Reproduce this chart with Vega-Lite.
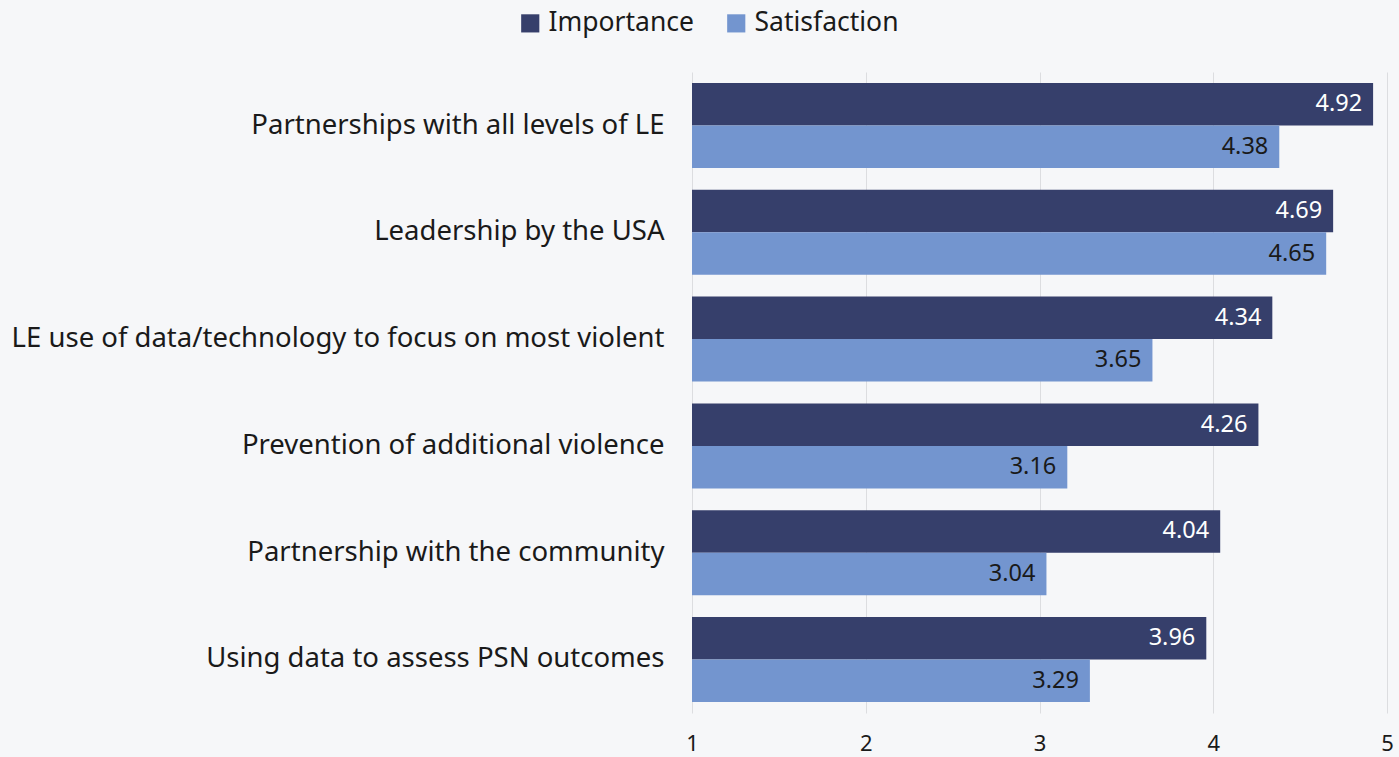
{
  "$schema": "https://vega.github.io/schema/vega-lite/v6.json",
  "width": 695,
  "height": 641,
  "autosize": {"type": "none"},
  "padding": {"left": 692, "top": 72, "right": 12, "bottom": 44},
  "background": "#f6f7f9",
  "config": {
    "font": "Noto Sans",
    "view": {"stroke": null}
  },
  "data": {
    "values": [
      {"item": "Partnerships with all levels of LE", "series": "Importance", "value": 4.92},
      {"item": "Partnerships with all levels of LE", "series": "Satisfaction", "value": 4.38},
      {"item": "Leadership by the USA", "series": "Importance", "value": 4.69},
      {"item": "Leadership by the USA", "series": "Satisfaction", "value": 4.65},
      {"item": "LE use of data/technology to focus on most violent", "series": "Importance", "value": 4.34},
      {"item": "LE use of data/technology to focus on most violent", "series": "Satisfaction", "value": 3.65},
      {"item": "Prevention of additional violence", "series": "Importance", "value": 4.26},
      {"item": "Prevention of additional violence", "series": "Satisfaction", "value": 3.16},
      {"item": "Partnership with the community", "series": "Importance", "value": 4.04},
      {"item": "Partnership with the community", "series": "Satisfaction", "value": 3.04},
      {"item": "Using data to assess PSN outcomes", "series": "Importance", "value": 3.96},
      {"item": "Using data to assess PSN outcomes", "series": "Satisfaction", "value": 3.29}
    ]
  },
  "encoding": {
    "y": {
      "field": "item",
      "type": "nominal",
      "sort": null,
      "scale": {"paddingInner": 0.204, "paddingOuter": 0.103},
      "axis": {
        "title": null,
        "domain": false,
        "ticks": false,
        "labelFontSize": 27.5,
        "labelColor": "#1a1a1a",
        "labelPadding": 28,
        "labelLimit": 800
      }
    },
    "yOffset": {"field": "series", "type": "nominal", "sort": ["Importance", "Satisfaction"]}
  },
  "layer": [
    {
      "mark": {"type": "bar"},
      "encoding": {
        "x": {
          "field": "value",
          "type": "quantitative",
          "scale": {"domain": [1, 5], "nice": false, "zero": false},
          "axis": {
            "title": null,
            "values": [1, 2, 3, 4, 5],
            "format": "d",
            "domain": false,
            "ticks": false,
            "grid": true,
            "gridColor": "#dcdde0",
            "gridWidth": 1,
            "labelFontSize": 22,
            "labelColor": "#1a1a1a",
            "labelPadding": 20,
            "labelFlush": false
          }
        },
        "x2": {"datum": 1},
        "color": {
          "field": "series",
          "type": "nominal",
          "scale": {"domain": ["Importance", "Satisfaction"], "range": ["#363f6b", "#7395cf"]},
          "legend": {
            "title": null,
            "orient": "none",
            "direction": "horizontal",
            "legendX": -175,
            "legendY": -62,
            "symbolType": "square",
            "symbolSize": 330,
            "symbolOpacity": 1,
            "labelFontSize": 26.5,
            "labelColor": "#1a1a1a",
            "columnPadding": 28,
            "labelOffset": 5
          }
        }
      }
    },
    {
      "mark": {"type": "text", "align": "right", "dx": -11, "fontSize": 23.5},
      "encoding": {
        "x": {"field": "value", "type": "quantitative"},
        "text": {"field": "value", "type": "quantitative", "format": ".2f"},
        "color": {
          "field": "series",
          "type": "nominal",
          "scale": {"domain": ["Importance", "Satisfaction"], "range": ["#ffffff", "#1a1a1a"]},
          "legend": null
        }
      }
    }
  ],
  "resolve": {"scale": {"color": "independent"}}
}
